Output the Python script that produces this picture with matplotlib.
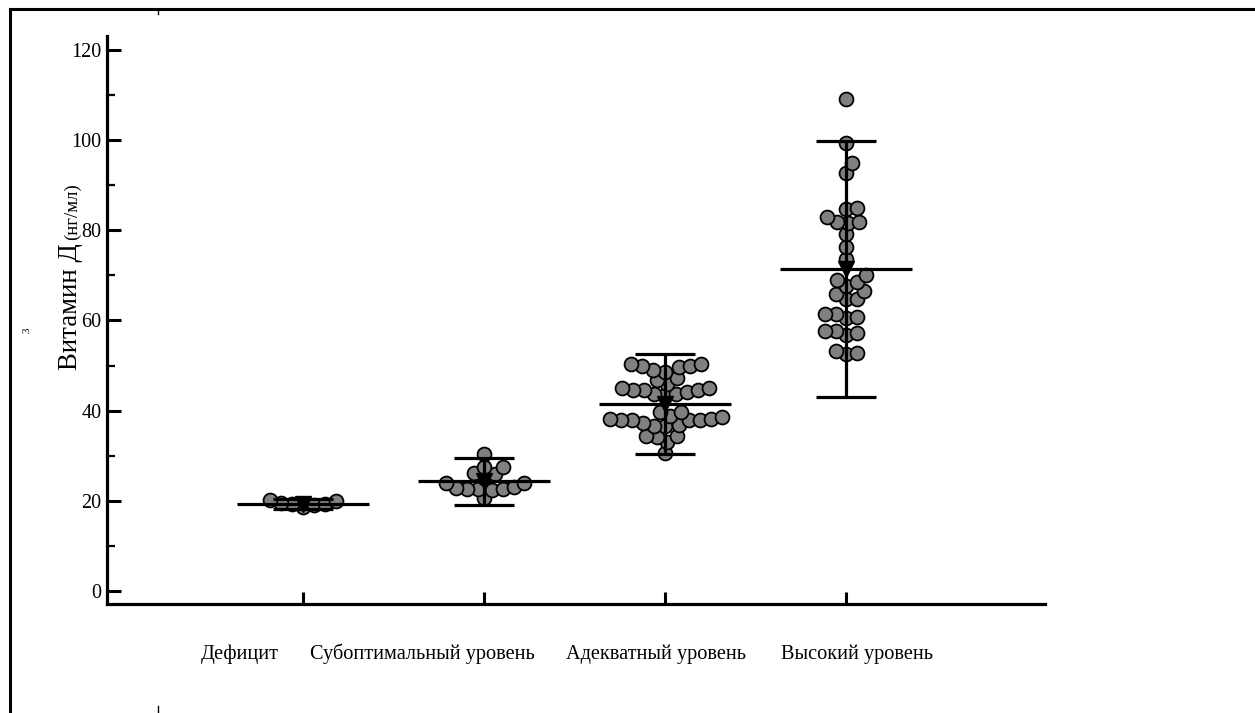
import numpy as np
import matplotlib.pyplot as plt
from matplotlib.lines import Line2D
from matplotlib import transforms

plt.rcParams['font.family'] = ['Liberation Serif', 'DejaVu Serif']

# vitamin D levels (ng/ml) per group
categories = ['Дефицит', 'Субоптимальный уровень', 'Адекватный уровень', 'Высокий уровень']
deficit = [18.7, 19.0, 19.3, 19.4, 19.6, 20.0, 20.2]
suboptimal = [20.6, 22.4, 22.6, 22.6, 22.6, 22.8, 23.1, 24.0, 24.0, 25.0, 26.0, 26.2,
              27.6, 27.6, 30.3]
adequate = [30.7, 33.1, 34.1, 34.4, 34.4, 36.6, 36.6, 36.8, 37.2, 37.9, 37.9, 37.9,
            37.9, 38.1, 38.1, 38.5, 38.8, 39.8, 39.8, 43.5, 43.7, 43.7, 44.2, 44.6,
            44.6, 44.6, 45.0, 45.0, 45.9, 46.7, 47.2, 48.6, 49.0, 49.6, 50.0, 50.0,
            50.4, 50.4]
high = [52.5, 52.9, 53.3, 56.8, 57.2, 57.7, 57.7, 60.5, 60.7, 61.4, 61.4, 64.7, 64.7,
        65.8, 66.6, 67.7, 68.6, 69.0, 70.1, 73.6, 76.4, 79.2, 81.6, 81.8, 81.9, 83.0,
        84.7, 84.9, 92.8, 94.9, 99.3, 109.1]
groups = [deficit, suboptimal, adequate, high]
means = [19.3, 24.3, 41.5, 71.4]
sds = [1.0, 5.3, 11.0, 28.4]

# where the category names sit along x (data units)
label_x = [-0.35, 0.66, 1.95, 3.06]

W, H = 1255, 713
fig = plt.figure(figsize=(W / 100, H / 100), dpi=100)
ax = fig.add_axes([107 / W, (H - 604) / H, (1045 - 107) / W, (604 - 36) / H])
ax.set_xlim(-1.083, 4.099)
ax.set_ylim(-2.88, 123.1)

# pixels per data unit, used for the swarm layout
px_x = 181.0
px_y = 4.508


def swarm(vals, d=11.0):
    placed = []
    offs = np.zeros(len(vals))
    order = np.argsort(vals)
    for i in order:
        yv = vals[i] * px_y
        for k in range(0, 400):
            cand = (k // 2 + k % 2) * 0.5 * (1 if k % 2 else -1)
            ok = True
            for (px, py) in placed:
                if (cand - px) ** 2 + (yv - py) ** 2 < d * d:
                    ok = False
                    break
            if ok:
                break
        placed.append((cand, yv))
        offs[i] = cand / px_x
    return offs


for i, vals in enumerate(groups):
    vals = np.array(vals)
    xs = i + swarm(vals)
    ax.plot(xs, vals, 'o', ms=10, mfc='#808080', mec='black', mew=1.3, zorder=2)

for i in range(len(groups)):
    m, s = means[i], sds[i]
    ax.hlines(m, i - 0.365, i + 0.365, color='black', lw=2.3, zorder=3)
    ax.hlines([m - s, m + s], i - 0.165, i + 0.165, color='black', lw=2.3, zorder=3)
    ax.vlines(i, m - s, m + s, color='black', lw=2.3, zorder=3)
    ax.plot(i, m, 'v', ms=11, color='black', zorder=4)

for sp in ['top', 'right']:
    ax.spines[sp].set_visible(False)
for sp in ['left', 'bottom']:
    ax.spines[sp].set_linewidth(2.3)

ax.set_yticks(np.arange(0, 121, 20))
ax.set_yticks(np.arange(0, 121, 10), minor=True)
ax.tick_params(axis='y', which='major', direction='in', length=10, width=2.2,
               labelsize=14.5, pad=4)
ax.tick_params(axis='y', which='minor', direction='in', length=6, width=1.6)
ax.set_xticks(range(len(categories)))
ax.set_xticklabels([])
ax.tick_params(axis='x', direction='in', length=8.5, width=2.2)

trans = transforms.blended_transform_factory(ax.transData, fig.transFigure)
for x, name in zip(label_x, categories):
    ax.text(x, (H - 654) / H, name, transform=trans, ha='center', va='center',
            fontsize=14.6)

# y-axis title in two sizes
t1 = fig.text(77 / W, (H - 370) / H, 'Витамин Д', rotation=90, rotation_mode='anchor',
              ha='left', va='baseline', fontsize=19.3)
fig.canvas.draw()
bb = t1.get_window_extent()
fig.text(77 / W, (bb.y1 + 3) / H, '(нг/мл)', rotation=90, rotation_mode='anchor',
         ha='left', va='baseline', fontsize=13.5)

fig.text(27 / W, (H - 330) / H, '3', rotation=90, ha='center', va='center', fontsize=8)

# page border around the figure
fig.add_artist(Line2D([10 / W, 1], [(H - 9) / H] * 2, transform=fig.transFigure,
                      color='black', lw=2.2))
fig.add_artist(Line2D([10 / W] * 2, [0, (H - 9) / H], transform=fig.transFigure,
                      color='black', lw=2.2))
fig.add_artist(Line2D([158 / W] * 2, [(H - 9) / H, (H - 14) / H],
                      transform=fig.transFigure, color='black', lw=1))
fig.add_artist(Line2D([158 / W] * 2, [0, 7 / H], transform=fig.transFigure,
                      color='black', lw=1))

fig.savefig('out.png', dpi=100)
